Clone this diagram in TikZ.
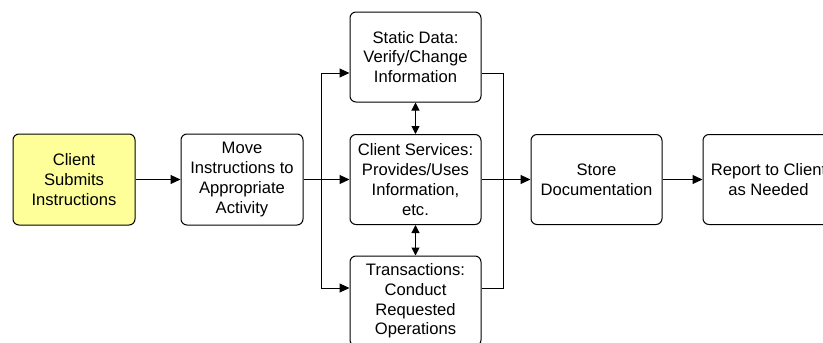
\documentclass[tikz,border=0pt]{standalone}
\usepackage{fontspec}
\setmainfont{Liberation Sans}
\usetikzlibrary{arrows.meta,positioning}
\definecolor{clientyellow}{RGB}{255,255,153}
\tikzset{
	box/.style={draw, rounded corners=6pt, minimum width=122pt, minimum height=91pt,
		align=center, inner sep=2pt, line width=1pt,
		font=\fontsize{16.6}{19.8}\selectfont},
	widebox/.style={box, minimum width=131pt, minimum height=90pt},
	flow/.style={-{Triangle[length=10pt,width=9pt]}, line width=1pt},
	link/.style={{Triangle[length=8pt,width=8pt]}-{Triangle[length=8pt,width=8pt]}, line width=1pt},
}
\begin{document}
\begin{tikzpicture}[x=1pt,y=-1pt]
	\useasboundingbox (0,0) rectangle (823,343);
	\node[box,fill=clientyellow] (client) at (74,179.5) {Client\\Submits\\Instructions};
	\node[box] (move) at (242,179.5) {Move\\Instructions to\\Appropriate\\Activity};
	\node[widebox] (static) at (415.5,57) {Static Data:\\Verify/Change\\Information};
	\node[widebox] (serv) at (415.5,179.5) {Client Services:\\Provides/Uses\\Information,\\etc.};
	\node[widebox] (trans) at (415.5,301) {Transactions:\\Conduct\\Requested\\Operations};
	\node[widebox] (store) at (596.5,179.5) {Store\\Documentation};
	\node[widebox] (report) at (768.5,179.5) {Report to Client\\as Needed};
	% fork and join points
	\coordinate (fork) at (321,179.5);
	\coordinate (topin) at (321,73);
	\coordinate (botin) at (321,288);
	\coordinate (topout) at (503,73);
	\coordinate (botout) at (503,288);
	\draw[flow] (client) -- (move);
	\draw[line width=1pt] (move) -- (fork);
	\draw[line width=1pt] (topin) -- (botin);
	\draw[flow] (fork) -- (serv);
	\draw[flow] (topin) -- (topin -| static.west);
	\draw[flow] (botin) -- (botin -| trans.west);
	\draw[line width=1pt] (topout -| static.east) -- (topout) -- (botout) -- (botout -| trans.east);
	\draw[flow] (serv) -- (store);
	\draw[flow] (store) -- (report);
	\draw[link] (static) -- (serv);
	\draw[link] (serv) -- (trans);
\end{tikzpicture}
\end{document}
